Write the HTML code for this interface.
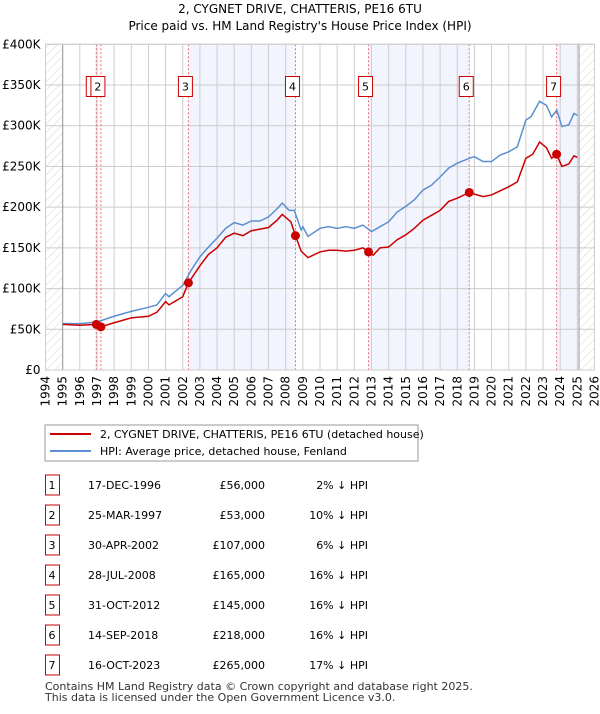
<!DOCTYPE html>
<html><head><meta charset="utf-8"><style>
body{margin:0;background:#fff;width:600px;height:710px;overflow:hidden;font-family:"DejaVu Sans","Liberation Sans",sans-serif}
svg text{font-family:"DejaVu Sans","Liberation Sans",sans-serif}
</style></head><body>
<svg id="c" width="600" height="710" xmlns="http://www.w3.org/2000/svg">
<defs><pattern id="hatch" width="6" height="6" patternUnits="userSpaceOnUse" patternTransform="rotate(45)"><line x1="0" y1="0" x2="0" y2="6" stroke="#d4d4d4" stroke-width="1"/></pattern></defs>
<text x="300" y="13" text-anchor="middle" font-size="12">2, CYGNET DRIVE, CHATTERIS, PE16 6TU</text>
<text x="300" y="30" text-anchor="middle" font-size="12">Price paid vs. HM Land Registry's House Price Index (HPI)</text>
<g id="plot"></g>
<rect x="45" y="425" width="373" height="36" fill="#fff" stroke="#999"/>
<line x1="50" y1="434" x2="91" y2="434" stroke="#cc0000" stroke-width="2"/>
<text x="100" y="438" font-size="11">2, CYGNET DRIVE, CHATTERIS, PE16 6TU (detached house)</text>
<line x1="50" y1="451" x2="91" y2="451" stroke="#5b8fd0" stroke-width="2"/>
<text x="100" y="455" font-size="11">HPI: Average price, detached house, Fenland</text>
<g id="tbl"></g>
<text x="45" y="690" font-size="11" fill="#333">Contains HM Land Registry data © Crown copyright and database right 2025.</text>
<text x="45" y="701" font-size="11" fill="#333">This data is licensed under the Open Government Licence v3.0.</text>
</svg>
<script>
const hpiYears=[1995,1996,1997,1998,1999,2000,2000.5,2001,2001.2,2002,2002.5,2003,2003.5,2004,2004.5,2005,2005.5,2006,2006.5,2007,2007.5,2007.8,2008.2,2008.5,2008.9,2009,2009.3,2010,2010.5,2011,2011.5,2012,2012.5,2013,2013.5,2014,2014.5,2015,2015.5,2016,2016.5,2017,2017.5,2018,2018.7,2019,2019.5,2020,2020.5,2021,2021.5,2022,2022.3,2022.8,2023.2,2023.5,2023.8,2024.1,2024.5,2024.8,2025];
const hpiValues=[57,57,59,66,72,77,80,94,90,104,123,139,151,162,174,181,178,183,183,188,198,205,196,196,172,176,164,174,176,174,176,174,178,170,176,182,194,201,209,221,227,237,248,254,260,262,256,256,264,268,274,307,311,330,325,311,319,299,301,315,313];
const priceYears=[1995,1996,1996.96,1997.23,1998,1999,2000,2000.5,2001,2001.2,2002,2002.33,2003,2003.5,2004,2004.5,2005,2005.5,2006,2007,2007.5,2007.8,2008.3,2008.57,2008.9,2009.3,2010,2010.5,2011,2011.5,2012,2012.5,2012.83,2013.1,2013.5,2014,2014.5,2015,2015.5,2016,2016.5,2017,2017.5,2018,2018.7,2019,2019.5,2020,2020.5,2021,2021.5,2022,2022.4,2022.8,2023.2,2023.5,2023.79,2024.1,2024.5,2024.8,2025];
const priceValues=[56,55,56,53,58,64,66,71,84,80,90,107,128,142,150,163,168,165,171,175,184,191,182,165,146,138,145,147,147,146,147,150,145,141,150,151,160,166,174,184,190,196,207,211,218,216,213,215,220,225,231,260,265,280,273,260,265,250,253,263,261];
const saleIds=[1,2,3,4,5,6,7];
const saleYears=[1996.96,1997.23,2002.33,2008.57,2012.83,2018.7,2023.79];
const salePrices=[56,53,107,165,145,218,265];
const saleDates=["17-DEC-1996","25-MAR-1997","30-APR-2002","28-JUL-2008","31-OCT-2012","14-SEP-2018","16-OCT-2023"];
const salePriceLabels=["£56,000","£53,000","£107,000","£165,000","£145,000","£218,000","£265,000"];
const salePct=["2%","10%","6%","16%","16%","16%","17%"];
const yTicks=[0,50,100,150,200,250,300,350,400];
const yTickLabels=["£0","£50K","£100K","£150K","£200K","£250K","£300K","£350K","£400K"];
const xTicks=[];for(let y=1994;y<=2026;y++)xTicks.push(y);

const NS="http://www.w3.org/2000/svg";
const L=45.5,R=594.5,T=44.3,B=370;
const x=v=>L+(v-1994)*(R-L)/32;
const y=v=>B-v*(B-T)/400;
function mk(p,tag,at){const e=document.createElementNS(NS,tag);for(const k in at)e.setAttribute(k,at[k]);p.appendChild(e);return e;}
const g=document.getElementById('plot');
[[2,3],[4,5],[6,null]].forEach(([a,b])=>{
  const x1=x(saleYears[a]),x2=b===null?x(2025.1):x(saleYears[b]);
  const r=mk(g,'rect',{x:x1,y:T,width:x2-x1,height:B-T,fill:'#f2f5fd'});
  
  
});
[[1994,1995],[2025.1,2026]].forEach(([a,b])=>{
  const r=mk(g,'rect',{x:x(a),y:T,width:x(b)-x(a),height:B-T,fill:'url(#hatch)'});
  
  
});
xTicks.forEach(v=>{
  const l=mk(g,'line',{x1:x(v),x2:x(v),y1:T,y2:B,stroke:'#ccc','stroke-width':1});
  
  
  const t=mk(g,'text',{x:0,y:0,'font-size':12,'text-anchor':'end',transform:`translate(${x(v)+4},${B+6}) rotate(-90)`});
  t.textContent=v;
  
  
});
yTicks.forEach((v,i)=>{
  const l=mk(g,'line',{x1:L,x2:R,y1:y(v),y2:y(v),stroke:'#ccc','stroke-width':1});
  
  
  const t=mk(g,'text',{x:L-5,y:y(v)+4,'font-size':12,'text-anchor':'end'});
  t.textContent=yTickLabels[i];
  
  
});
const ax=mk(g,'line',{x1:x(1995),x2:x(1995),y1:T,y2:B,stroke:'#999'});


const ax2=mk(g,'line',{x1:x(2025.1),x2:x(2025.1),y1:T,y2:B,stroke:'#999'});


saleYears.forEach(v=>{
  const l=mk(g,'line',{x1:x(v),x2:x(v),y1:T,y2:B,stroke:'#e87070','stroke-width':1,'stroke-dasharray':'2,2'});
  
  
});
const hp=mk(g,'polyline',{points:hpiYears.map((v,i)=>x(v)+','+y(hpiValues[i])).join(' '),fill:'none',stroke:'#5b8fd0','stroke-width':1.5});


const pp=mk(g,'polyline',{points:priceYears.map((v,i)=>x(v)+','+y(priceValues[i])).join(' '),fill:'none',stroke:'#cc0000','stroke-width':1.5});


saleYears.forEach((v,i)=>{
  const c=mk(g,'circle',{cx:x(v),cy:y(salePrices[i]),r:4.5,fill:'#cc0000'});
  
  
});
saleYears.forEach((v,i)=>{
  const cx=x(v)-3;
  const r=mk(g,'rect',{x:cx-7,y:76.5,width:14,height:20,fill:'#fff',stroke:'#cc0000'});
  
  
  const t=mk(g,'text',{x:cx,y:90.5,'font-size':11,'text-anchor':'middle'});
  t.textContent=saleIds[i];
  
  
});
const fr=mk(g,'rect',{x:L,y:T,width:R-L,height:B-T,fill:'none',stroke:'#ccc'});


const tb=document.getElementById('tbl');
saleIds.forEach((id,i)=>{
  const yy=485+i*30;
  const r=mk(tb,'rect',{x:45.5,y:yy-10,width:14,height:20,fill:'#fff',stroke:'#cc0000'});
  
  
  const cells=[[52,'middle',id],[88,'start',saleDates[i]],[265,'end',salePriceLabels[i]],[368,'end',salePct[i]+' ↓ HPI']];
  cells.forEach(([cx,an,txt],j)=>{
    const t=mk(tb,'text',{x:cx,y:yy+4,'font-size':11,'text-anchor':an});
    t.textContent=txt;
    
    
  });
});
</script>
</body></html>
